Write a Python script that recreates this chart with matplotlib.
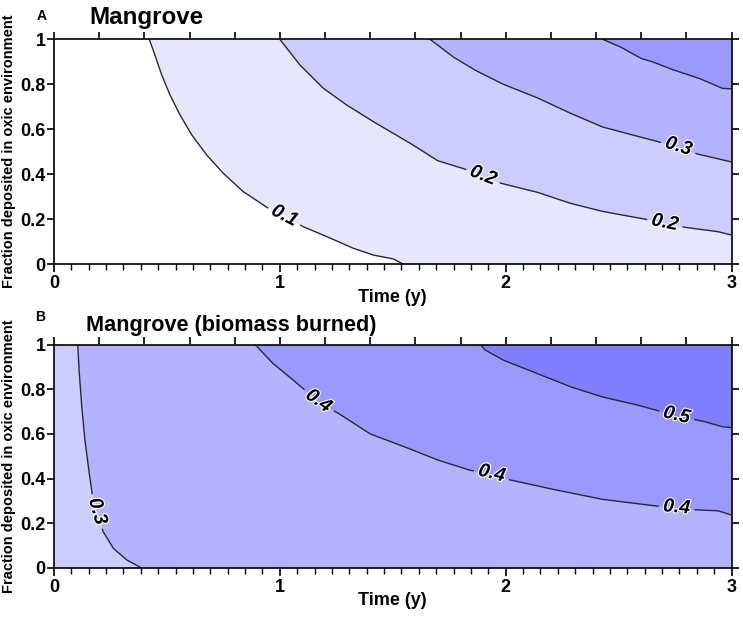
import numpy as np
import matplotlib.pyplot as plt
import matplotlib.patheffects as pe
from matplotlib.ticker import MultipleLocator, NullFormatter, FixedLocator, FixedFormatter

plt.rcParams['font.family'] = ['Liberation Sans', 'DejaVu Sans']
plt.rcParams['font.weight'] = 'bold'

# contour lines: time (y) and fraction in oxic environment
# panel A - Mangrove
a_lev = [0.1, 0.2, 0.3, 0.4]
a_t01 = [0.422, 0.447, 0.477, 0.514, 0.558, 0.610, 0.676, 0.750, 0.838, 0.949, 1.023,
         1.104, 1.208, 1.326, 1.414, 1.503, 1.547]
a_f01 = [1.00, 0.930, 0.841, 0.752, 0.664, 0.575, 0.486, 0.404, 0.323, 0.249, 0.212,
         0.167, 0.123, 0.071, 0.041, 0.024, 0.0]
a_t02 = [1.00, 1.089, 1.193, 1.296, 1.414, 1.577, 1.70, 1.83, 1.98, 2.14, 2.29, 2.43,
         2.62, 2.79, 2.94, 3.00]
a_f02 = [1.00, 0.886, 0.782, 0.708, 0.634, 0.538, 0.46, 0.42, 0.36, 0.32, 0.27, 0.235,
         0.20, 0.165, 0.145, 0.13]
a_t03 = [1.665, 1.77, 1.87, 1.99, 2.14, 2.29, 2.43, 2.58, 2.77, 2.85, 3.00]
a_f03 = [1.00, 0.92, 0.86, 0.80, 0.74, 0.67, 0.61, 0.57, 0.52, 0.49, 0.455]
a_t04 = [2.43, 2.51, 2.60, 2.65, 2.74, 2.86, 2.96, 3.00]
a_f04 = [1.00, 0.965, 0.915, 0.90, 0.865, 0.825, 0.782, 0.78]
# where the contour labels sit (level, time)
a_labels = [(0.1, 1.02), (0.2, 1.90), (0.2, 2.705), (0.3, 2.765)]

# panel B - Mangrove (biomass burned)
b_lev = [0.3, 0.4, 0.5]
b_t03 = [0.105, 0.112, 0.123, 0.137, 0.156, 0.170, 0.192, 0.218, 0.263, 0.322, 0.388]
b_f03 = [1.00, 0.871, 0.722, 0.573, 0.424, 0.327, 0.245, 0.162, 0.088, 0.036, 0.0]
b_t04 = [0.89, 0.97, 1.06, 1.17, 1.27, 1.40, 1.55, 1.70, 1.84, 1.94, 2.02, 2.21, 2.43,
         2.67, 2.85, 2.94, 3.00]
b_f04 = [1.00, 0.915, 0.84, 0.745, 0.685, 0.60, 0.543, 0.483, 0.438, 0.42, 0.394, 0.352,
         0.307, 0.277, 0.26, 0.256, 0.237]
b_t05 = [1.887, 1.91, 1.99, 2.14, 2.29, 2.43, 2.58, 2.76, 2.88, 2.96, 3.00]
b_f05 = [1.00, 0.975, 0.93, 0.87, 0.81, 0.765, 0.73, 0.68, 0.655, 0.632, 0.628]
b_labels = [(0.3, 0.19), (0.4, 1.17), (0.4, 1.938), (0.4, 2.757), (0.5, 2.757)]

x_ticks = [0, 1, 2, 3]
x_tick_labels = ['0', '1', '2', '3']
y_ticks = [0, 0.2, 0.4, 0.6, 0.8, 1.0]
y_tick_labels = ['0', '0.2', '0.4', '0.6', '0.8', '1']

# fill colour above each level
band = {0.1: '#e6e6ff', 0.2: '#ccccff', 0.3: '#b3b3ff', 0.4: '#9999ff', 0.5: '#8080ff'}
line_col = '#2a2a2a'
GAP = 18  # half gap (px) in a contour line around a label


def contour_line(ax, t, f, level, label_ts):
    t = np.asarray(t, float)
    f = np.asarray(f, float)
    pts = ax.transData.transform(np.column_stack([t, f]))
    s = np.concatenate([[0], np.cumsum(np.hypot(*np.diff(pts, axis=0).T))])
    inv = ax.transData.inverted()

    def at(sv):
        return np.array([np.interp(sv, s, pts[:, 0]), np.interp(sv, s, pts[:, 1])])

    bounds = [0.0]
    for tl in label_ts:
        s0 = np.interp(tl, t, s)
        pa, pb = at(s0 - GAP), at(s0 + GAP)
        ang = np.degrees(np.arctan2(pb[1] - pa[1], pb[0] - pa[0]))
        if ang > 90:
            ang -= 180
        elif ang < -90:
            ang += 180
        cx, cy = inv.transform(at(s0))
        ax.text(cx, cy, f'{level:.1f}', rotation=ang, rotation_mode='anchor',
                ha='center', va='center', fontsize=14, fontstyle='italic',
                fontweight='bold', color='black', zorder=5,
                path_effects=[pe.withStroke(linewidth=1.6, foreground='white')])
        bounds += [s0 - GAP, s0 + GAP]
    bounds.append(s[-1])
    for s_a, s_b in zip(bounds[::2], bounds[1::2]):
        inside = (s > s_a) & (s < s_b)
        seg = np.vstack([at(s_a), pts[inside], at(s_b)])
        seg = inv.transform(seg)
        ax.plot(seg[:, 0], seg[:, 1], color=line_col, lw=1.0, zorder=4,
                solid_capstyle='butt', solid_joinstyle='round')


def style_axes(ax):
    ax.set_xlim(0, 3)
    ax.set_ylim(0, 1)
    for sp in ax.spines.values():
        sp.set_linewidth(1.2)
        sp.set_zorder(6)
    ax.xaxis.set_major_locator(FixedLocator(x_ticks))
    ax.xaxis.set_major_formatter(FixedFormatter(x_tick_labels))
    ax.xaxis.set_minor_locator(MultipleLocator(1 / 13))
    ax.yaxis.set_major_locator(FixedLocator(y_ticks))
    ax.yaxis.set_major_formatter(FixedFormatter(y_tick_labels))
    ax.tick_params(axis='x', which='major', direction='out', length=6, width=1.2,
                   labelsize=13, pad=2)
    ax.tick_params(axis='x', which='minor', direction='out', length=4, width=1.0)
    ax.tick_params(axis='y', which='major', direction='out', length=5, width=1.2,
                   labelsize=13, pad=1, right=True)
    top = ax.secondary_xaxis('top')
    top.xaxis.set_major_locator(MultipleLocator(0.2))
    top.xaxis.set_major_formatter(NullFormatter())
    top.tick_params(direction='out', length=5, width=1.2)
    top.spines['top'].set_visible(False)
    ax.text(0.5, -0.147, 'Time (y)', transform=ax.transAxes, ha='center',
            va='center', fontsize=13, fontweight='bold')


def panel(ax, levels, lines, labels, base):
    style_axes(ax)
    ax.set_facecolor(base)
    for lev, (t, f) in zip(levels, lines):
        ax.fill_betweenx(f, t, 3, color=band[lev], lw=0, zorder=1)
    for lev, (t, f) in zip(levels, lines):
        contour_line(ax, t, f, lev, [tl for lv, tl in labels if lv == lev])


fig = plt.figure(figsize=(7.43, 6.19), dpi=100)
W, H = 743, 619
axA = fig.add_axes([54 / W, 1 - 264.3 / H, 677.5 / W, 225 / H])
axB = fig.add_axes([54 / W, 1 - 568 / H, 677.5 / W, 223.5 / H])

panel(axA, a_lev, [(a_t01, a_f01), (a_t02, a_f02), (a_t03, a_f03), (a_t04, a_f04)],
      a_labels, 'white')
panel(axB, b_lev, [(b_t03, b_f03), (b_t04, b_f04), (b_t05, b_f05)],
      b_labels, band[0.2])

ylab = 'Fraction deposited in oxic environment'
fig.text(9 / W, 1 - 151.5 / H, ylab, rotation=90, ha='center', va='center',
         fontsize=10.5, fontweight='bold')
fig.text(9 / W, 1 - 456 / H, ylab, rotation=90, ha='center', va='center',
         fontsize=10.5, fontweight='bold')

fig.text(37 / W, 1 - 20 / H, 'A', fontsize=10, fontweight='bold', va='baseline')
fig.text(89 / W, 1 - 24 / H, 'Mangrove', fontsize=17.4, fontweight='bold', va='baseline')
fig.text(35 / W, 1 - 321 / H, 'B', fontsize=10, fontweight='bold', va='baseline')
fig.text(86 / W, 1 - 331 / H, 'Mangrove (biomass burned)', fontsize=15.6,
         fontweight='bold', va='baseline')

fig.savefig('out.png', dpi=100)
